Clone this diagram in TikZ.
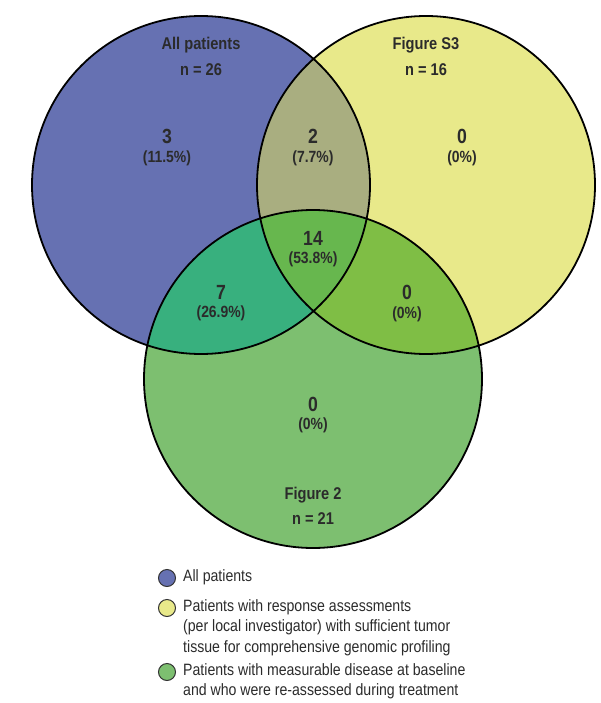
\documentclass[tikz,border=0pt]{standalone}
\usepackage{fontspec}
\setmainfont{Liberation Sans}
\newfontfamily\lblfont[FakeStretch=0.86]{Liberation Sans}
\definecolor{cblue}{HTML}{6671B2}
\definecolor{cyellow}{HTML}{E8E98A}
\definecolor{cgreen}{HTML}{7DBF70}
\definecolor{cby}{HTML}{A9AE80}
\definecolor{cbg}{HTML}{38B07E}
\definecolor{cyg}{HTML}{7FBE45}
\definecolor{cbyg}{HTML}{67B74E}
\definecolor{ctext}{HTML}{2B2B2B}
\begin{document}
\begin{tikzpicture}[x=1pt,y=-1pt,
  title/.style={font=\lblfont\bfseries\fontsize{17}{19}\selectfont,text=ctext,inner sep=0pt},
  num/.style={font=\lblfont\bfseries\fontsize{20.5}{22}\selectfont,text=ctext,inner sep=0pt},
  pct/.style={font=\lblfont\bfseries\fontsize{16.2}{18}\selectfont,text=ctext,inner sep=0pt},
  legtext/.style={font=\lblfont\fontsize{16.4}{20.5}\selectfont,text=ctext,inner sep=0pt,anchor=north west,align=left},
  legdot/.style={circle,draw=black!80,line width=1pt,minimum size=17pt,inner sep=0pt},
  outline/.style={draw=black,line width=1.8pt}]
\useasboundingbox (0,0) rectangle (600,703);
\def\CB{(201,185) circle[radius=169pt]}
\def\CY{(426,185) circle[radius=169pt]}
\def\CG{(313,379) circle[radius=169pt]}
% base fills
\fill[cblue] \CB;
\fill[cyellow] \CY;
\fill[cgreen] \CG;
% pairwise overlaps
\begin{scope}\clip \CB; \fill[cby] \CY; \end{scope}
\begin{scope}\clip \CB; \fill[cbg] \CG; \end{scope}
\begin{scope}\clip \CY; \fill[cyg] \CG; \end{scope}
\begin{scope}\clip \CB; \clip \CY; \fill[cbyg] \CG; \end{scope}
% outlines
\draw[outline] \CB;
\draw[outline] \CY;
\draw[outline] \CG;
% circle titles
\node[title] (tb1) at (201,45) {All patients};
\node[title] (tb2) at (201,70) {n = 26};
\node[title] (ty1) at (426,45) {Figure S3};
\node[title] (ty2) at (426,70) {n = 16};
\node[title] (tg1) at (313,495) {Figure 2};
\node[title] (tg2) at (313,519) {n = 21};
% region values
\node[num] (nb) at (167,136) {3};
\node[pct] (pb) at (167,158) {(11.5\%)};
\node[num] (nby) at (313,136) {2};
\node[pct] (pby) at (313,158) {(7.7\%)};
\node[num] (ny) at (462,136) {0};
\node[pct] (py) at (462,158) {(0\%)};
\node[num] (nbyg) at (313,238) {14};
\node[pct] (pbyg) at (313,259) {(53.8\%)};
\node[num] (nbg) at (221,292) {7};
\node[pct] (pbg) at (221,313) {(26.9\%)};
\node[num] (nyg) at (407,292) {0};
\node[pct] (pyg) at (407,314) {(0\%)};
\node[num] (ng) at (313,404) {0};
\node[pct] (pg) at (313,425) {(0\%)};
% legend
\node[legdot,fill=cblue] (d1) at (167,578) {};
\node[legdot,fill=cyellow] (d2) at (167,608) {};
\node[legdot,fill=cgreen] (d3) at (167,672) {};
\node[legtext] (l1) at (183,569) {All patients};
\node[legtext] (l2) at (183,599) {Patients with response assessments\\(per local investigator) with sufficient tumor\\tissue for comprehensive genomic profiling};
\node[legtext] (l3) at (183,663) {Patients with measurable disease at baseline\\and who were re-assessed during treatment};
\end{tikzpicture}
\end{document}
